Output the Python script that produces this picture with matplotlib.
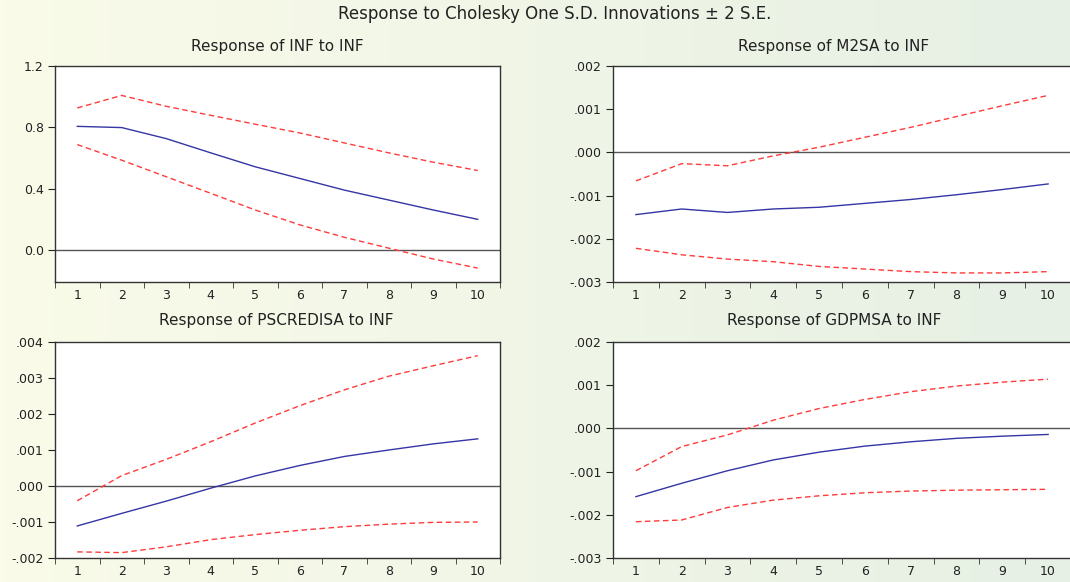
import numpy as np
import matplotlib
matplotlib.use('Agg')
import matplotlib.pyplot as plt
from matplotlib.colors import LinearSegmentedColormap

# periods
periods = np.arange(1, 11)

# Response of INF to INF
inf_mid = [0.806, 0.798, 0.726, 0.633, 0.542, 0.466, 0.39, 0.325, 0.26, 0.199]
inf_up = [0.926, 1.008, 0.937, 0.878, 0.82, 0.763, 0.698, 0.633, 0.572, 0.518]
inf_lo = [0.687, 0.585, 0.477, 0.369, 0.26, 0.163, 0.082, 0.011, -0.06, -0.119]

# Response of M2SA to INF
m2_mid = [-0.00144, -0.00131, -0.00139, -0.00131, -0.00127, -0.00118, -0.00109, -0.00098, -0.00086, -0.00073]
m2_up = [-0.00066, -0.00026, -0.00031, -0.00008, 0.00012, 0.00035, 0.00058, 0.00083, 0.00108, 0.00132]
m2_lo = [-0.00222, -0.00237, -0.00247, -0.00253, -0.00264, -0.0027, -0.00276, -0.00279, -0.00279, -0.00276]

# Response of PSCREDISA to INF
ps_mid = [-0.00111, -0.00076, -0.00042, -0.00006, 0.00028, 0.00057, 0.00082, 0.001, 0.00117, 0.00131]
ps_up = [-0.00041, 0.00029, 0.00074, 0.00123, 0.00175, 0.00223, 0.00267, 0.00305, 0.00334, 0.00362]
ps_lo = [-0.00183, -0.00185, -0.00169, -0.00149, -0.00135, -0.00123, -0.00113, -0.00106, -0.00101, -0.001]

# Response of GDPMSA to INF
gd_mid = [-0.00158, -0.00127, -0.00098, -0.00073, -0.00055, -0.00041, -0.00031, -0.00023, -0.00018, -0.00014]
gd_up = [-0.00098, -0.00042, -0.00015, 0.00019, 0.00046, 0.00067, 0.00085, 0.00098, 0.00107, 0.00114]
gd_lo = [-0.00216, -0.00212, -0.00183, -0.00166, -0.00156, -0.00149, -0.00145, -0.00143, -0.00142, -0.00141]

W, H = 1070, 582
plt.rcParams['font.family'] = ['DejaVu Sans']
fig = plt.figure(figsize=(W / 100, H / 100), dpi=100)

# background gradient
bg = fig.add_axes([0, 0, 1, 1], zorder=-10)
cmap = LinearSegmentedColormap.from_list('bg', ['#fafbe9', '#e6f0e4'])
grad = np.linspace(0, 1, 256).reshape(1, -1)
bg.imshow(grad, aspect='auto', cmap=cmap, extent=[0, 1, 0, 1])
bg.axis('off')

fig.text(555 / W, 1 - 14 / H, 'Response to Cholesky One S.D. Innovations \u00b1 2 S.E.',
         ha='center', va='center', fontsize=12, color='#222222')


def px_axes(l, r, t, b):
    return fig.add_axes([l / W, 1 - b / H, (r - l) / W, (b - t) / H])


panels = [
    ((55, 500, 66, 282), 'Response of INF to INF', inf_mid, inf_up, inf_lo,
     (-0.21, 1.2), [0.0, 0.4, 0.8, 1.2], ['0.0', '0.4', '0.8', '1.2'], 0.5, 20),
    ((613, 1071, 66, 282), 'Response of M2SA to INF', m2_mid, m2_up, m2_lo,
     (-0.003, 0.002), [-0.003, -0.002, -0.001, 0.0, 0.001, 0.002],
     ['-.003', '-.002', '-.001', '.000', '.001', '.002'], 0.4825, 20),
    ((55, 500, 342, 558), 'Response of PSCREDISA to INF', ps_mid, ps_up, ps_lo,
     (-0.002, 0.004), [-0.002, -0.001, 0.0, 0.001, 0.002, 0.003, 0.004],
     ['-.002', '-.001', '.000', '.001', '.002', '.003', '.004'], 0.497, 22),
    ((613, 1071, 342, 558), 'Response of GDPMSA to INF', gd_mid, gd_up, gd_lo,
     (-0.003, 0.002), [-0.003, -0.002, -0.001, 0.0, 0.001, 0.002],
     ['-.003', '-.002', '-.001', '.000', '.001', '.002'], 0.4825, 22),
]

for box, title, mid, up, lo, ylim, yt, ytl, tx, toff in panels:
    ax = px_axes(*box)
    ax.set_facecolor('white')
    ax.axhline(0, color='#555555', lw=1, zorder=1)
    ax.plot(periods, up, color='#ff3b3b', lw=1, ls=(0, (4, 2.5)), zorder=3)
    ax.plot(periods, lo, color='#ff3b3b', lw=1, ls=(0, (4, 2.5)), zorder=3)
    ax.plot(periods, mid, color='#3535a5', lw=1, zorder=4)
    ax.set_xlim(0.5, 10.5)
    ax.set_ylim(*ylim)
    ax.set_xticks(periods)
    ax.set_xticks(np.arange(0.5, 11, 1), minor=True)
    ax.set_yticks(yt)
    ax.set_yticklabels(ytl)
    ax.tick_params(axis='x', which='major', length=0, pad=5, labelsize=9, colors='#222222')
    ax.tick_params(axis='x', which='minor', length=4, direction='out', color='#333333')
    ax.tick_params(axis='y', length=5, direction='out', pad=3, labelsize=9, colors='#222222')
    for s in ax.spines.values():
        s.set_color('#333333')
        s.set_linewidth(1)
    ax.text(tx, 1 + toff / 216, title, transform=ax.transAxes, ha='center', va='center',
            fontsize=11, color='#222222')

fig.savefig('out.png', dpi=100)
